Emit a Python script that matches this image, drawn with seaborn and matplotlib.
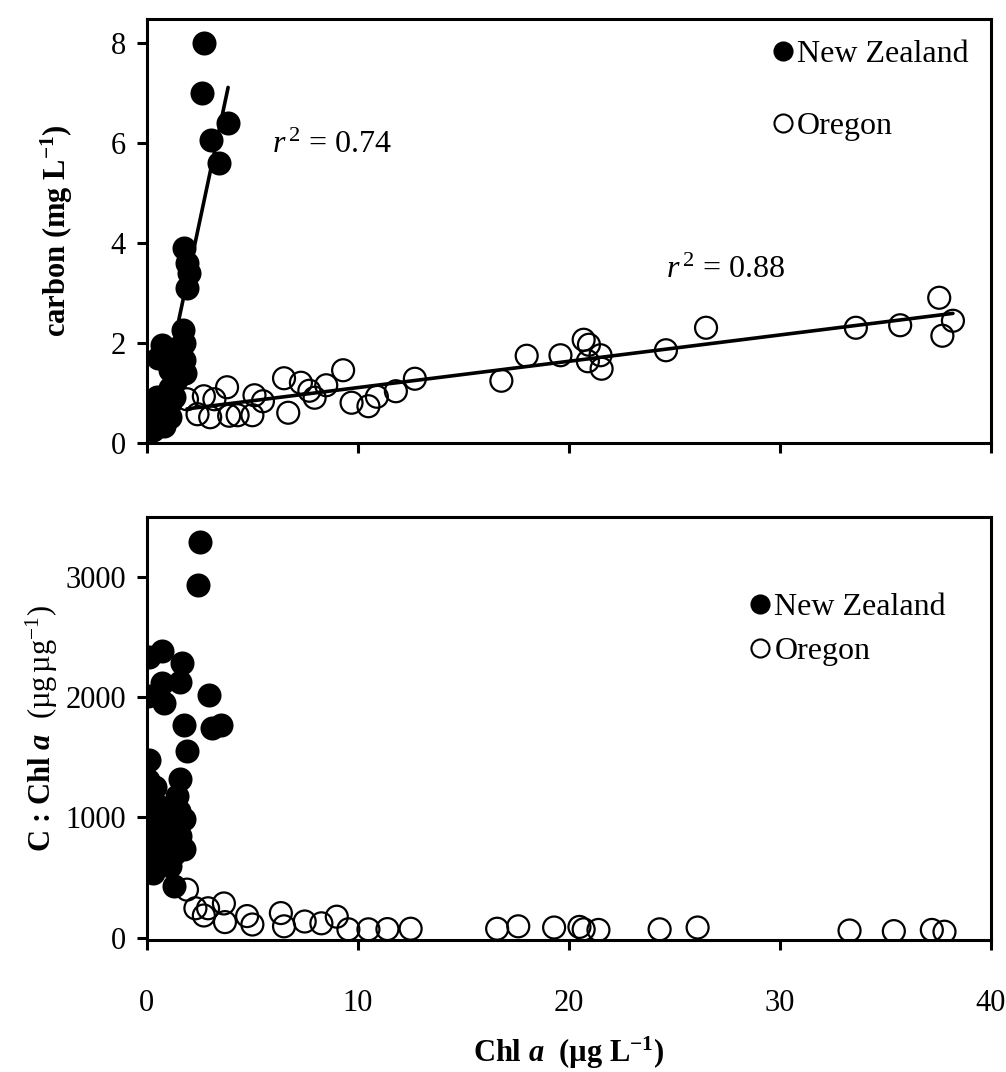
import matplotlib
matplotlib.use("Agg")
import matplotlib.pyplot as plt
from matplotlib.lines import Line2D
import numpy as np
import pandas as pd
import seaborn as sns

# ---- carbon vs chlorophyll (upper panel) ----
nz_chl = [2.70, 2.60, 3.85, 3.05, 3.40, 1.75, 1.90, 2.00, 1.90, 1.70, 0.70, 0.55,
          1.75, 1.75, 1.80, 1.10, 1.10, 1.30, 1.10, 0.50, 0.15, 0.05, 0.30, 1.10,
          0.80, 1.40, 1.45, 0.90, 0.35, 0.60, 1.20, 0.20, 1.25]
nz_carbon = [8.00, 7.00, 6.40, 6.05, 5.60, 3.90, 3.60, 3.40, 3.10, 2.25, 1.95, 1.70,
             2.00, 1.65, 1.40, 1.45, 1.10, 0.92, 0.80, 0.92, 0.60, 0.40, 0.26, 0.52,
             0.33, 1.25, 1.90, 0.70, 0.45, 0.50, 1.75, 0.30, 1.60]

or_chl = [1.9, 2.7, 2.4, 3.0, 3.2, 3.8, 3.9, 4.3, 5.0, 5.1, 5.5, 6.5, 6.7, 7.3,
          7.7, 8.5, 7.95, 9.3, 9.7, 10.5, 10.9, 11.8, 12.7, 16.8, 18.0, 19.6,
          20.7, 20.95, 20.9, 21.5, 21.55, 24.6, 26.5, 33.6, 35.7, 37.55, 37.7, 38.2]
or_carbon = [0.87, 0.93, 0.57, 0.51, 0.87, 1.11, 0.54, 0.55, 0.55, 0.95, 0.83, 1.29,
             0.60, 1.20, 1.04, 1.15, 0.90, 1.45, 0.80, 0.73, 0.92, 1.03, 1.28, 1.24,
             1.74, 1.75, 2.06, 1.96, 1.63, 1.75, 1.48, 1.85, 2.30, 2.30, 2.35, 2.90,
             2.14, 2.44]

# ---- C : Chl a ratio vs chlorophyll (lower panel) ----
nz_chl_r = [2.50, 2.43, 0.10, 0.71, 1.67, 1.59, 0.71, 0.05, 0.79, 2.94, 1.75, 3.49,
            3.10, 1.90, 0.08, 0.05, 1.59, 1.43, 0.05, 1.75, 0.05, 1.59, 0.30, 1.75,
            0.30, 1.10, 1.27, 0.50, 0.60, 0.90, 1.20, 0.40, 0.20, 1.50, 0.80, 1.00,
            0.35, 1.30, 0.60, 0.15]
nz_ratio = [3290, 2930, 2330, 2385, 2280, 2125, 2120, 2010, 1955, 2015, 1765, 1770,
            1740, 1555, 1480, 1315, 1320, 1180, 1175, 985, 980, 845, 705, 735,
            540, 600, 430, 1100, 900, 800, 950, 1250, 850, 1050, 650, 1000,
            1000, 700, 750, 620]

or_chl_r = [1.9, 2.3, 2.9, 3.65, 2.7, 3.7, 4.75, 5.0, 6.35, 6.5, 7.48, 8.27, 9.0,
            9.55, 10.5, 11.4, 12.5, 16.6, 17.6, 19.3, 20.5, 20.7, 21.4, 24.3, 26.1,
            33.3, 35.4, 37.2, 37.8]
or_ratio = [400, 245, 245, 285, 185, 130, 180, 110, 205, 95, 135, 120, 175,
            70, 70, 72, 75, 75, 95, 85, 90, 70, 65, 70, 85,
            60, 55, 65, 50]

x_ticks = [0, 10, 20, 30, 40]
carbon_ticks = [0, 2, 4, 6, 8]
ratio_ticks = [0, 1000, 2000, 3000]
series_names = ["New Zealand", "Oregon"]
r2_labels = ["0.74", "0.88"]

top = pd.DataFrame({"chl": nz_chl + or_chl,
                    "val": nz_carbon + or_carbon,
                    "site": [series_names[0]] * len(nz_chl) + [series_names[1]] * len(or_chl)})
bot = pd.DataFrame({"chl": nz_chl_r + or_chl_r,
                    "val": nz_ratio + or_ratio,
                    "site": [series_names[0]] * len(nz_chl_r) + [series_names[1]] * len(or_chl_r)})

sns.set_style("ticks")
plt.rcParams.update({
    "font.family": ["Liberation Serif", "DejaVu Serif"],
    "mathtext.fontset": "custom",
    "mathtext.rm": "Liberation Serif",
    "mathtext.it": "Liberation Serif:italic",
    "mathtext.bf": "Liberation Serif:bold",
    "mathtext.sf": "Liberation Serif:bold:italic",
    "text.color": "black",
    "axes.labelcolor": "black",
    "axes.linewidth": 2.2,
    "xtick.major.width": 2.2,
    "ytick.major.width": 2.2,
    "xtick.major.size": 7,
    "ytick.major.size": 7,
    "xtick.direction": "out",
    "ytick.direction": "out",
    "xtick.color": "black",
    "ytick.color": "black",
    "axes.edgecolor": "black",
})

fig = plt.figure(figsize=(10.06, 10.72), dpi=100)
ax1 = fig.add_axes([0.146, 0.587, 0.839, 0.395])
ax2 = fig.add_axes([0.146, 0.123, 0.839, 0.395])

MS = 250
nz_kw = dict(s=MS, color="black", edgecolor="black", linewidth=1.5, zorder=3)
or_kw = dict(s=MS, facecolor="none", edgecolor="black", linewidth=1.6, zorder=3)

def draw_points(ax, df):
    nz = df[df.site == series_names[0]]
    og = df[df.site == series_names[1]]
    sns.scatterplot(data=og, x="chl", y="val", ax=ax, legend=False, **or_kw)
    sns.scatterplot(data=nz, x="chl", y="val", ax=ax, legend=False, **nz_kw)
    return nz, og

nz_t, or_t = draw_points(ax1, top)
for d in (nz_t, or_t):
    sns.regplot(data=d, x="chl", y="val", ax=ax1, scatter=False, ci=None,
                truncate=True, line_kws=dict(color="black", linewidth=2.6, zorder=2))
draw_points(ax2, bot)

ax1.set_xlim(0, 40)
ax1.set_ylim(0, 8.47)
ax1.set_xticks(x_ticks)
ax1.set_xticklabels([])
ax1.set_yticks(carbon_ticks)
ax2.set_xlim(0, 40)
ax2.set_ylim(-20, 3500)
ax2.set_xticks(x_ticks)
ax2.set_yticks(ratio_ticks)

for ax in (ax1, ax2):
    ax.tick_params(labelsize=22, pad=8, labelcolor="black")
    for s in ax.spines.values():
        s.set_visible(True)
        s.set_linewidth(2.2)
ax2.tick_params(axis="x", pad=28)

ax1.set_xlabel("")
ax1.set_ylabel(r"carbon (mg L$^{\mathbf{-1}}$)", fontsize=22, fontweight="bold", labelpad=26)
ax2.set_ylabel(r"C : Chl $\mathsf{a}$  $\mathrm{(µg\,µg^{-1})}$", fontsize=22,
               fontweight="bold", labelpad=4)
ax2.set_xlabel(r"Chl $\mathsf{a}$  (µg L$^{\mathbf{-1}}$)", fontsize=22,
               fontweight="bold", labelpad=12)

ax1.text(5.95, 5.95, r"$r^{\,\mathrm{2}}$ = " + r2_labels[0], fontsize=23, va="center")
ax1.text(24.6, 3.45, r"$r^{\,\mathrm{2}}$ = " + r2_labels[1], fontsize=23, va="center")

handles = [
    Line2D([], [], marker="o", linestyle="none", markersize=13, markerfacecolor="black",
           markeredgecolor="black", markeredgewidth=1.5),
    Line2D([], [], marker="o", linestyle="none", markersize=13, markerfacecolor="none",
           markeredgecolor="black", markeredgewidth=1.5),
]
ax1.legend(handles, series_names, loc="upper left", bbox_to_anchor=(0.742, 0.952),
           frameon=False, fontsize=23, handlelength=0.6, handletextpad=0.15,
           labelspacing=1.35, borderpad=0, borderaxespad=0)
ax2.legend(handles, series_names, loc="upper left", bbox_to_anchor=(0.715, 0.82),
           frameon=False, fontsize=23, handlelength=0.6, handletextpad=0.15,
           labelspacing=0.45, borderpad=0, borderaxespad=0)

fig.savefig("out.png", dpi=100, facecolor="white")
